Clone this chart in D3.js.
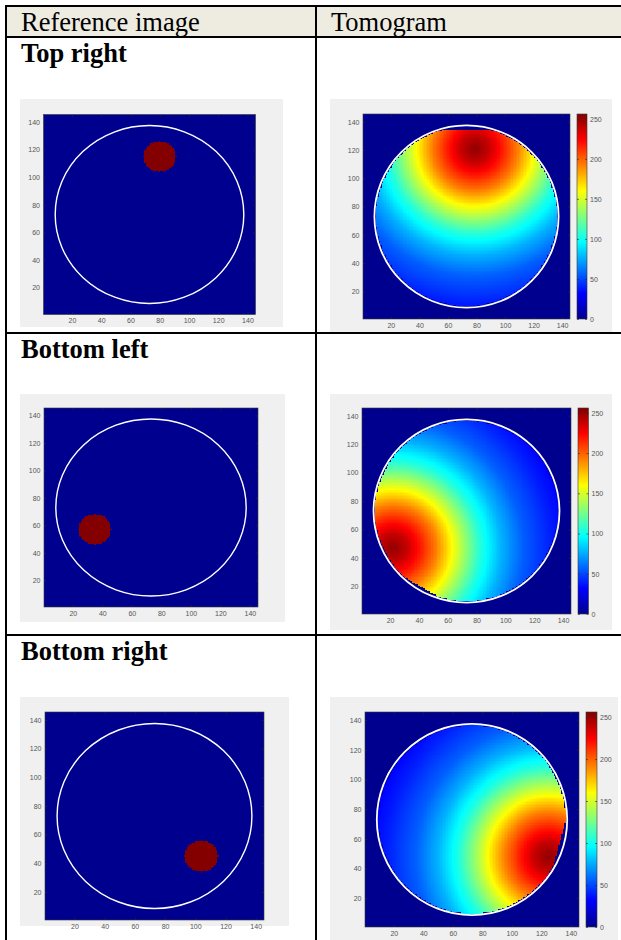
<!DOCTYPE html>
<html><head><meta charset="utf-8">
<script src="https://cdn.jsdelivr.net/npm/d3@7"></script>
<style>body{margin:0;background:#fff;} svg{display:block;}</style>
</head><body>
<svg id="c" width="621" height="940"></svg>
<script>
// ---------- data ----------
const headerLabels = ["Reference image", "Tomogram"];
const caseLabels = ["Top right", "Bottom left", "Bottom right"];
const axisTicks = [20, 40, 60, 80, 100, 120, 140];
const colorbarTicks = [0, 50, 100, 150, 200, 250];
const axisDomain = [0.5, 145.5];
const colorDomain = [0, 256];
const gridSize = 145;

// reference images: circular inclusion in the tank
const inclusionX = [80, 35, 104];
const inclusionY = [115, 57, 45];
const inclusionR = [11, 11, 11];
const inclusionValue = 255;
const backgroundValue = 0;

// tank boundary (white ring)
const tankCenter = [73, 73];
const tankRadius = 64.5;

// tomograms: peak location and value profile vs distance from the peak
const tomoPeakX = [79, 22, 125];
const tomoPeakY = [121, 47, 48];
const profileDist  = [0,   10,  20,  30,  40,  50,  60,  75, 90, 110, 130, 150];
const profileValue = [252, 238, 216, 192, 163, 134, 106, 77, 56, 39,  26,  18];
// reconstructed region: disc, cut on the side of the peak
const maskR = 63.5;
const cutAngle = [90, 240, -15];
const cutDist = [61, 62, 61.5];

// jet colormap
const jetStops  = [0, 32, 96, 160, 224, 256];
const jetColors = ["#00008f", "#0000ff", "#00ffff", "#ffff00", "#ff0000", "#800000"];

// ---------- layout ----------
const rows = [
  {line: 37, text: 62,
   ref:  {bg: [20, 99, 283, 327],  plot: [43.5, 114.5, 255.5, 314.5]},
   tomo: {bg: [330, 99, 612, 332], plot: [363, 114, 570, 319], cb: [577, 114, 587, 319]}},
  {line: 333, text: 358,
   ref:  {bg: [20, 394, 285, 622],  plot: [44, 408, 258, 607]},
   tomo: {bg: [330, 394, 612, 630], plot: [362, 408, 571, 614], cb: [578, 408, 588.5, 614]}},
  {line: 635, text: 660,
   ref:  {bg: [20, 697, 289, 926],  plot: [45, 712, 264, 920]},
   tomo: {bg: [330, 697, 618, 940], plot: [365, 712, 579, 927], cb: [586, 712, 597, 927]}}
];

const svg = d3.select("#c");
const jet = d3.scaleLinear().domain(jetStops).range(jetColors).clamp(true);
const profile = d3.scaleLinear().domain(profileDist).range(profileValue).clamp(true);

function makeImage(valueFn) {
  const N = gridSize;
  const cv = document.createElement("canvas");
  cv.width = N; cv.height = N;
  const ctx = cv.getContext("2d");
  const img = ctx.createImageData(N, N);
  for (let r = 0; r < N; r++) {
    for (let c = 0; c < N; c++) {
      const x = c + 1, y = N - r;
      const col = d3.rgb(jet(valueFn(x, y)));
      const k = (r * N + c) * 4;
      img.data[k] = col.r; img.data[k + 1] = col.g; img.data[k + 2] = col.b; img.data[k + 3] = 255;
    }
  }
  ctx.putImageData(img, 0, 0);
  return cv.toDataURL();
}

const labelFont = "'Liberation Sans', Arial, sans-serif";
const labelColor = "#555";

function styleAxis(g) {
  g.select(".domain").remove();
  g.selectAll(".tick line").attr("stroke", "#262626").attr("stroke-width", 0.6);
  g.selectAll(".tick text").attr("fill", labelColor).attr("font-size", 7).attr("font-family", labelFont);
}

function drawPanel(box, href, withColorbar) {
  const g = svg.append("g");
  const [bx0, by0, bx1, by1] = box.bg;
  g.append("rect").attr("x", bx0).attr("y", by0).attr("width", bx1 - bx0).attr("height", by1 - by0).attr("fill", "#f0f0f0");
  const [x0, y0, x1, y1] = box.plot;
  const xs = d3.scaleLinear().domain(axisDomain).range([x0, x1]);
  const ys = d3.scaleLinear().domain(axisDomain).range([y1, y0]);
  g.append("image").attr("href", href)
    .attr("x", x0).attr("y", y0).attr("width", x1 - x0).attr("height", y1 - y0)
    .attr("preserveAspectRatio", "none").style("image-rendering", "pixelated");
  g.append("ellipse")
    .attr("cx", xs(tankCenter[0])).attr("cy", ys(tankCenter[1]))
    .attr("rx", xs(tankCenter[0] + tankRadius) - xs(tankCenter[0]))
    .attr("ry", ys(tankCenter[1]) - ys(tankCenter[1] + tankRadius))
    .attr("fill", "none").attr("stroke", "#ffffff").attr("stroke-width", withColorbar ? 1.8 : 1.4);
  const ts = 2.5;
  g.append("g").attr("transform", `translate(0,${y1})`)
    .call(d3.axisBottom(xs).tickValues(axisTicks).tickSizeInner(-ts).tickSizeOuter(0).tickPadding(4)).call(styleAxis);
  g.append("g").attr("transform", `translate(0,${y0})`)
    .call(d3.axisTop(xs).tickValues(axisTicks).tickSizeInner(-ts).tickSizeOuter(0).tickFormat("")).call(styleAxis);
  g.append("g").attr("transform", `translate(${x0},0)`)
    .call(d3.axisLeft(ys).tickValues(axisTicks).tickSizeInner(-ts).tickSizeOuter(0).tickPadding(3.5)).call(styleAxis);
  g.append("g").attr("transform", `translate(${x1},0)`)
    .call(d3.axisRight(ys).tickValues(axisTicks).tickSizeInner(-ts).tickSizeOuter(0).tickFormat("")).call(styleAxis);
  g.append("rect").attr("x", x0).attr("y", y0).attr("width", x1 - x0).attr("height", y1 - y0)
    .attr("fill", "none").attr("stroke", "#3a3a3a").attr("stroke-width", 0.6);

  if (withColorbar) {
    const [cx0, cy0, cx1, cy1] = box.cb;
    const cs = d3.scaleLinear().domain(colorDomain).range([cy1, cy0]);
    const id = "grad" + Math.round(cy0);
    const grad = svg.append("defs").append("linearGradient").attr("id", id)
      .attr("x1", 0).attr("y1", 1).attr("x2", 0).attr("y2", 0);
    grad.selectAll("stop").data(jetStops).join("stop")
      .attr("offset", d => (d - colorDomain[0]) / (colorDomain[1] - colorDomain[0]))
      .attr("stop-color", (d, i) => jetColors[i]);
    g.append("rect").attr("x", cx0).attr("y", cy0).attr("width", cx1 - cx0).attr("height", cy1 - cy0)
      .attr("fill", `url(#${id})`).attr("stroke", "#3a3a3a").attr("stroke-width", 0.6);
    g.append("g").attr("transform", `translate(${cx1},0)`)
      .call(d3.axisRight(cs).tickValues(colorbarTicks).tickSizeInner(-2).tickSizeOuter(0).tickPadding(3)).call(styleAxis);
    g.append("g").attr("transform", `translate(${cx0},0)`)
      .call(d3.axisLeft(cs).tickValues(colorbarTicks).tickSizeInner(-2).tickSizeOuter(0).tickFormat("")).call(styleAxis);
  }
}

// ---------- table ----------
svg.append("rect").attr("x", 6).attr("y", 6).attr("width", 615).attr("height", 31).attr("fill", "#eeece1");
const serif = "'Liberation Serif', 'Times New Roman', serif";
svg.selectAll("text.hdr").data(headerLabels).join("text").attr("class", "hdr")
  .attr("x", (d, i) => i === 0 ? 21 : 331).attr("y", 30.5)
  .attr("font-family", serif).attr("font-size", 26.5).attr("fill", "#000").text(d => d);

rows.forEach((row, i) => {
  svg.append("text").attr("x", 21).attr("y", row.text)
    .attr("font-family", serif).attr("font-size", 26.5).attr("font-weight", "bold").attr("fill", "#000")
    .text(caseLabels[i]);

  const refHref = makeImage((x, y) => {
    const dx = x - inclusionX[i], dy = y - inclusionY[i];
    return dx * dx + dy * dy <= inclusionR[i] * inclusionR[i] ? inclusionValue : backgroundValue;
  });
  drawPanel(row.ref, refHref, false);

  const a = cutAngle[i] * Math.PI / 180;
  const nx = Math.cos(a), ny = Math.sin(a);
  const tomoHref = makeImage((x, y) => {
    const mx = x - tankCenter[0], my = y - tankCenter[1];
    if (mx * mx + my * my > maskR * maskR) return backgroundValue;
    if (mx * nx + my * ny > cutDist[i]) return backgroundValue;
    const d = Math.hypot(x - tomoPeakX[i], y - tomoPeakY[i]);
    return profile(d);
  });
  drawPanel(row.tomo, tomoHref, true);
});

// table lines
const lines = svg.append("g").attr("stroke", "#000").attr("stroke-width", 2);
[6, 37, rows[1].line, rows[2].line].forEach(y =>
  lines.append("line").attr("x1", 5).attr("x2", 621).attr("y1", y).attr("y2", y));
[6, 316].forEach(x =>
  lines.append("line").attr("x1", x).attr("x2", x).attr("y1", 5).attr("y2", 940));
</script>
</body></html>
